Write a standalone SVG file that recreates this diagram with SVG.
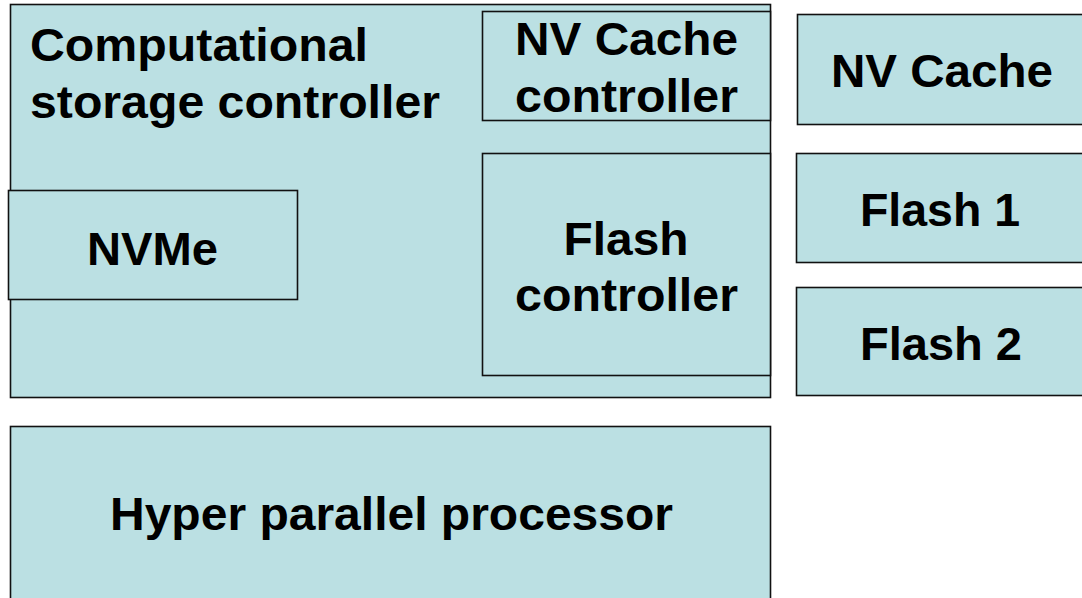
<svg xmlns="http://www.w3.org/2000/svg" width="1082" height="598" viewBox="0 0 1082 598">
  <style>
    .box { fill: #bbe0e3; stroke: #111; stroke-width: 1.6; }
    .lbl { font-family: "Liberation Sans", Arial, sans-serif; font-weight: bold; font-size: 46px; fill: #000; }
    .mid { text-anchor: middle; }
  </style>
  <rect width="1082" height="598" fill="#ffffff"/>

  <g id="storage-controller">
    <rect class="box" x="10.5" y="4.5" width="760" height="393"/>
    <text class="lbl" x="30" y="61" textLength="338" lengthAdjust="spacingAndGlyphs">Computational</text>
    <text class="lbl" x="30" y="118" textLength="410" lengthAdjust="spacingAndGlyphs">storage controller</text>
  </g>

  <g id="nv-cache-controller">
    <rect class="box" x="482.5" y="11.5" width="288" height="109"/>
    <text class="lbl mid" x="626.5" y="55" textLength="223" lengthAdjust="spacingAndGlyphs">NV Cache</text>
    <text class="lbl mid" x="626.5" y="112" textLength="223" lengthAdjust="spacingAndGlyphs">controller</text>
  </g>

  <g id="flash-controller">
    <rect class="box" x="482.5" y="153.5" width="288" height="222"/>
    <text class="lbl mid" x="626" y="255" textLength="125" lengthAdjust="spacingAndGlyphs">Flash</text>
    <text class="lbl mid" x="626.5" y="311" textLength="223" lengthAdjust="spacingAndGlyphs">controller</text>
  </g>

  <g id="nvme">
    <rect class="box" x="8.5" y="190.5" width="289" height="109"/>
    <text class="lbl mid" x="152.5" y="265" textLength="131" lengthAdjust="spacingAndGlyphs">NVMe</text>
  </g>

  <g id="nv-cache">
    <rect class="box" x="797.5" y="14.5" width="300" height="110"/>
    <text class="lbl mid" x="942" y="87" textLength="222" lengthAdjust="spacingAndGlyphs">NV Cache</text>
  </g>

  <g id="flash-1">
    <rect class="box" x="796.5" y="153.5" width="300" height="109"/>
    <text class="lbl mid" x="940" y="226" textLength="160" lengthAdjust="spacingAndGlyphs">Flash 1</text>
  </g>

  <g id="flash-2">
    <rect class="box" x="796.5" y="287.5" width="300" height="108"/>
    <text class="lbl mid" x="941" y="360" textLength="162" lengthAdjust="spacingAndGlyphs">Flash 2</text>
  </g>

  <g id="hyper-parallel-processor">
    <rect class="box" x="10.5" y="426.5" width="760" height="190"/>
    <text class="lbl mid" x="391.5" y="530" textLength="563" lengthAdjust="spacingAndGlyphs">Hyper parallel processor</text>
  </g>

  <!-- blocks are arranged by position only; no connector lines are drawn -->
  <g id="connectors"></g>
</svg>
